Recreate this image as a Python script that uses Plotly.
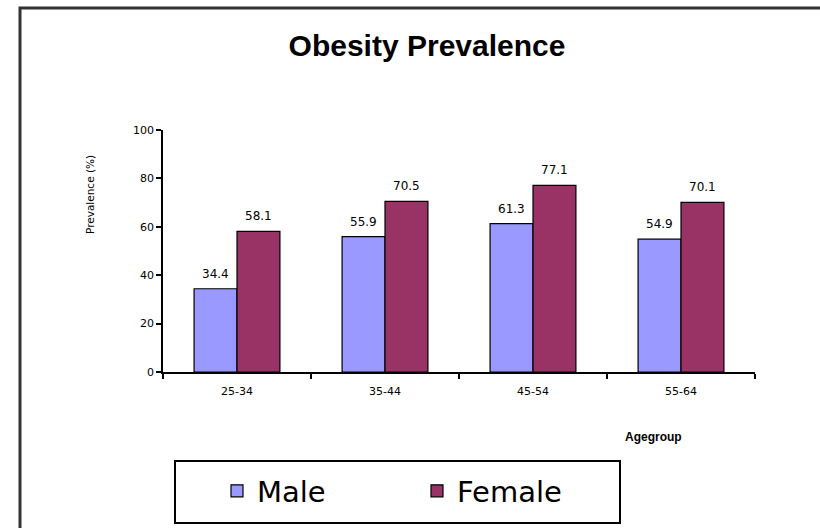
import plotly.graph_objects as go

# Obesity prevalence (%) by age group and sex
age_groups = ["25-34", "35-44", "45-54", "55-64"]
male = [34.4, 55.9, 61.3, 54.9]
female = [58.1, 70.5, 77.1, 70.1]
y_ticks = [0, 20, 40, 60, 80, 100]

MALE_COLOR = "#9999FF"
FEMALE_COLOR = "#993366"
TICK_FONT = dict(family="DejaVu Sans", size=11, color="#000000")

# Plot area in pixels (left, right, top, bottom) used for paper-coordinate shapes
PX_L, PX_R, PX_T, PX_B = 163, 755, 130, 372
W_PX, H_PX = PX_R - PX_L, PX_B - PX_T


def px_x(px):
    return (px - PX_L) / W_PX


def px_y(py):
    return (PX_B - py) / H_PX


fig = go.Figure()
fig.add_trace(go.Bar(
    name="Male", x=age_groups, y=male,
    marker=dict(color=MALE_COLOR, line=dict(color="#000000", width=1.2)),
))
fig.add_trace(go.Bar(
    name="Female", x=age_groups, y=female,
    marker=dict(color=FEMALE_COLOR, line=dict(color="#000000", width=1.2)),
))

# Value labels above each bar
annotations = []
for series, shift in ((male, -21.5), (female, 21.5)):
    for cat, val in zip(age_groups, series):
        annotations.append(dict(
            x=cat, y=val, xref="x", yref="y", text=f"{val:.1f}",
            showarrow=False, xshift=shift, yanchor="bottom", yshift=6,
            font=dict(family="DejaVu Sans", size=12, color="#000000"),
        ))

# Axis titles
annotations.append(dict(
    x=px_x(90), y=px_y(195), xref="paper", yref="paper", text="Prevalence (%)",
    textangle=-90, showarrow=False, xanchor="center", yanchor="middle",
    font=dict(family="DejaVu Sans", size=10.5, color="#000000"),
))
annotations.append(dict(
    x=px_x(653), y=px_y(437), xref="paper", yref="paper", text="<b>Agegroup</b>",
    showarrow=False, xanchor="center", yanchor="middle",
    font=dict(family="Liberation Sans", size=12, color="#000000"),
))

fig.update_layout(
    width=820, height=528,
    margin=dict(l=PX_L, r=820 - PX_R, t=PX_T, b=528 - PX_B),
    paper_bgcolor="#FFFFFF", plot_bgcolor="#FFFFFF",
    barmode="group", bargap=0.42, bargroupgap=0,
    title=dict(
        text="<b>Obesity Prevalence</b>",
        x=427 / 820, xanchor="center", y=1 - 45 / 528, yanchor="middle",
        font=dict(family="Liberation Sans", size=30, color="#000000"),
    ),
    xaxis=dict(
        type="category", range=[-0.5, 3.5], tickson="boundaries",
        showline=True, linecolor="#000000", linewidth=1.5,
        ticks="outside", ticklen=5, tickcolor="#000000", tickwidth=1.5,
        tickfont=TICK_FONT, showgrid=False, ticklabelstandoff=8,
    ),
    yaxis=dict(
        range=[0, 100], tickvals=y_ticks,
        showline=True, linecolor="#000000", linewidth=1.5,
        ticks="outside", ticklen=5, tickcolor="#000000", tickwidth=1.5,
        tickfont=TICK_FONT, showgrid=False, zeroline=False,
    ),
    legend=dict(
        orientation="h", x=px_x(217), xanchor="left", y=px_y(491), yanchor="middle",
        borderwidth=0, bgcolor="rgba(0,0,0,0)",
        font=dict(family="DejaVu Sans", size=29, color="#000000"),
        entrywidth=155, itemwidth=30,
    ),
    annotations=annotations,
    shapes=[
        # outer chart frame
        dict(
            type="rect", xref="paper", yref="paper",
            x0=px_x(20), x1=px_x(840), y0=px_y(560), y1=px_y(8),
            line=dict(color="#333333", width=3), fillcolor="rgba(0,0,0,0)",
            layer="below",
        ),
        # legend box
        dict(
            type="rect", xref="paper", yref="paper",
            x0=px_x(175), x1=px_x(620), y0=px_y(523), y1=px_y(461),
            line=dict(color="#000000", width=2), fillcolor="#FFFFFF",
            layer="below",
        ),
    ],
)

fig.write_html("out.html")
